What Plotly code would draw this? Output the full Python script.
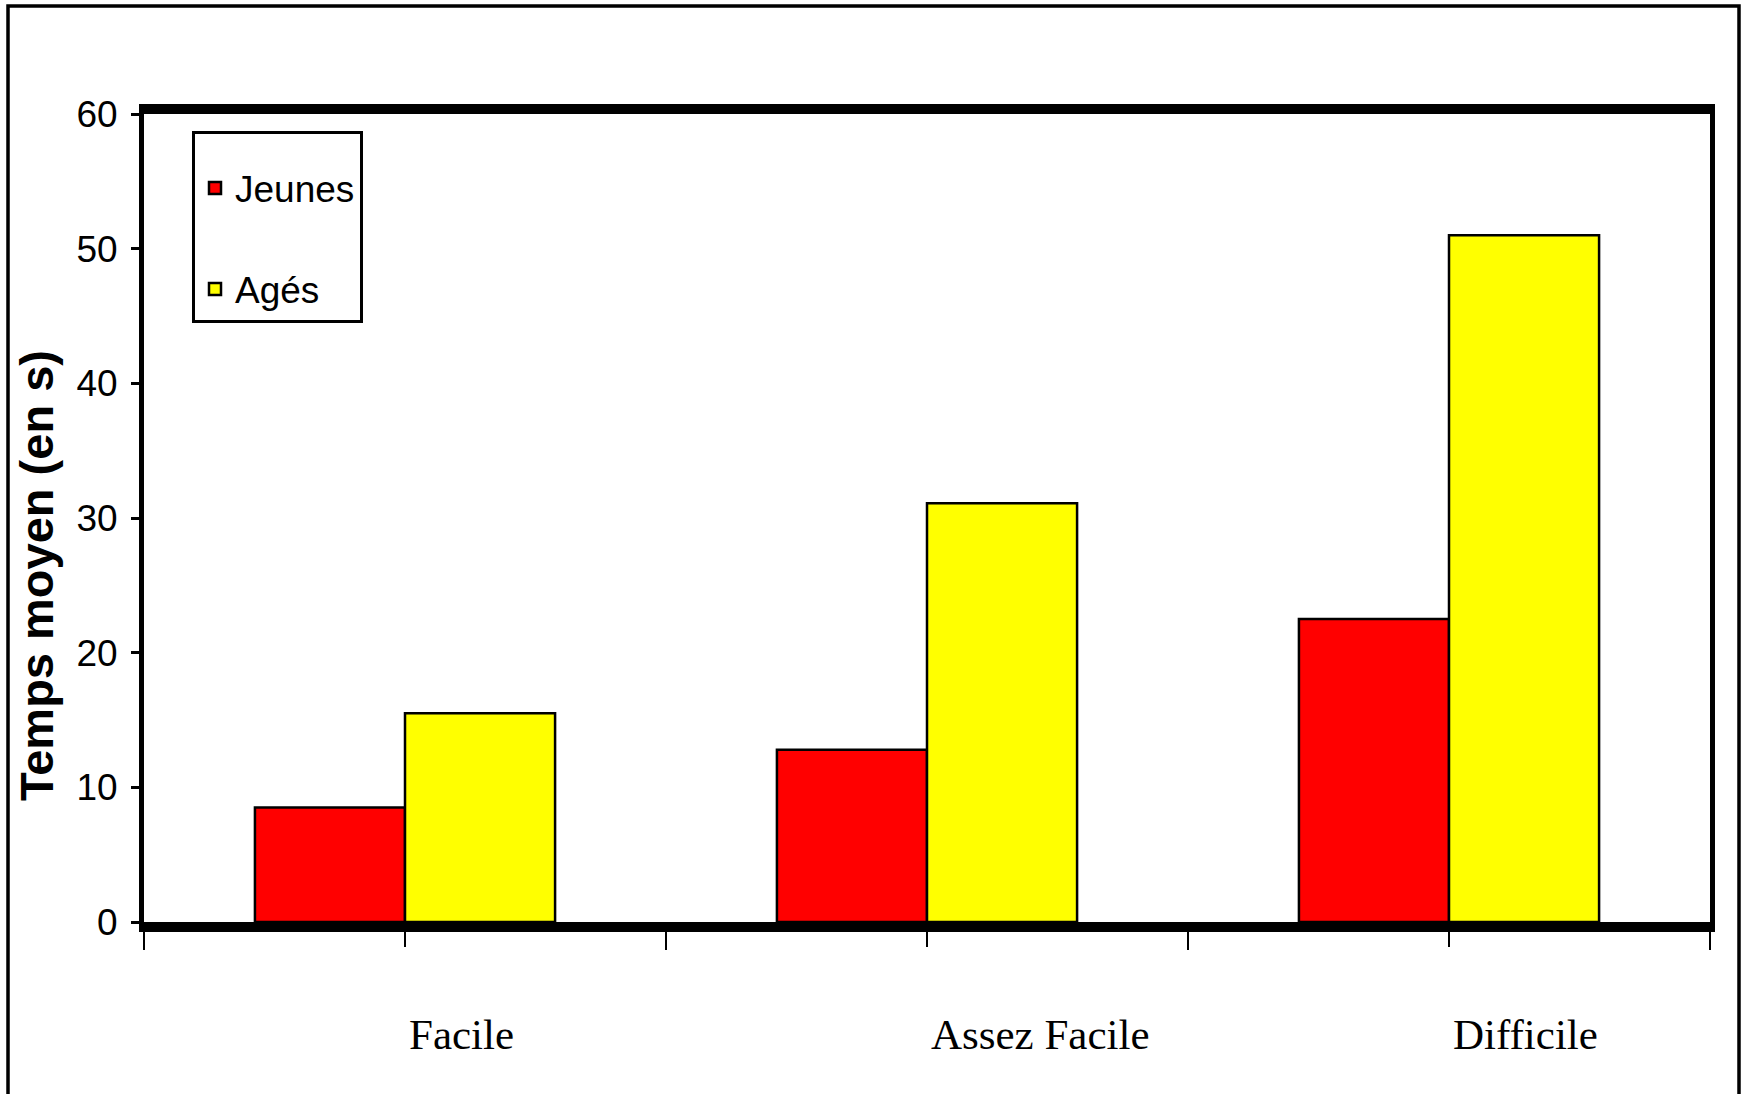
import plotly.graph_objects as go

# Mean completion time by task difficulty, young vs. older participants
categories = ["Facile", "Assez Facile", "Difficile"]
jeunes = [8.5, 12.8, 22.5]
ages = [15.5, 31.1, 51.0]
y_ticks = [0, 10, 20, 30, 40, 50, 60]

W, H = 1747, 1094
L, R, T, B = 144, 1710, 114, 922
pw, ph = R - L, B - T


def px_x(x):
    return (x - L) / pw


def px_y(y):
    return (B - y) / ph


fig = go.Figure()
fig.add_trace(go.Bar(
    x=categories, y=jeunes, name="Jeunes", legendgroup="j",
    marker=dict(color="#ff0000", line=dict(color="black", width=2.5)),
))
fig.add_trace(go.Bar(
    x=categories, y=ages, name="Agés", legendgroup="a",
    marker=dict(color="#ffff00", line=dict(color="black", width=2.5)),
))
# empty helper trace so the secondary x axis (centre ticks) gets drawn
fig.add_trace(go.Scatter(
    x=categories, y=[None] * len(categories), xaxis="x2", mode="markers",
    showlegend=False, hoverinfo="skip",
))

annotations = []
# category names, left-aligned from the middle of each group
for c in categories:
    annotations.append(dict(
        x=c, xref="x", y=px_y(1034), yref="paper",
        text=c, showarrow=False, xanchor="left", yanchor="middle", xshift=2,
        font=dict(family="Liberation Serif, Times New Roman, serif", size=43, color="black"),
    ))
annotations.append(dict(
    x=px_x(36), xref="paper", y=px_y(576), yref="paper",
    text="<b>Temps moyen (en s)</b>", textangle=-90, showarrow=False,
    xanchor="center", yanchor="middle",
    font=dict(family="Liberation Sans, Arial, sans-serif", size=47, color="black"),
))

fig.update_layout(
    width=W, height=H,
    margin=dict(l=L, r=W - R, t=T, b=H - B, pad=0),
    paper_bgcolor="white", plot_bgcolor="white",
    barmode="group", bargap=0.425, bargroupgap=0,
    showlegend=True,
    legend=dict(
        x=px_x(192), y=px_y(131), xanchor="left", yanchor="top",
        bordercolor="black", borderwidth=3, bgcolor="white",
        tracegroupgap=50, traceorder="grouped",
        itemwidth=30,
        title=dict(text="\u00a0", font=dict(size=18)),
        font=dict(family="Liberation Sans, Arial, sans-serif", size=37, color="black"),
    ),
    xaxis=dict(
        type="category", categoryorder="array", categoryarray=categories,
        range=[-0.5, 2.5],
        showline=True, linecolor="black", linewidth=10, mirror=True,
        ticks="outside", tickson="boundaries", ticklen=18, tickwidth=2, tickcolor="black",
        showticklabels=False, showgrid=False, zeroline=False,
    ),
    xaxis2=dict(
        type="category", categoryorder="array", categoryarray=categories,
        range=[-0.5, 2.5], overlaying="x", anchor="y", side="bottom",
        showline=False, ticks="outside", ticklen=24, tickwidth=2, tickcolor="black",
        showticklabels=False, showgrid=False, zeroline=False,
    ),
    yaxis=dict(
        range=[0, 60], tickvals=y_ticks,
        showline=True, linecolor="black", linewidth=5, mirror=True,
        ticks="outside", ticklen=8, tickwidth=3, tickcolor="black",
        ticklabelstandoff=6,
        tickfont=dict(family="Liberation Sans, Arial, sans-serif", size=37, color="black"),
        showgrid=False, zeroline=False,
    ),
    annotations=annotations,
    shapes=[dict(
        type="rect", xref="paper", yref="paper",
        x0=px_x(8), x1=px_x(1739), y0=px_y(1110), y1=px_y(6),
        line=dict(color="black", width=3.5), fillcolor="rgba(0,0,0,0)", layer="below",
    )],
)

fig.write_html("out.html")
